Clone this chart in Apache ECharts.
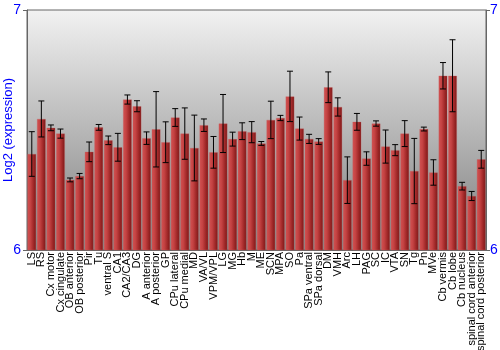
<!DOCTYPE html>
<html><head><meta charset="utf-8">
<script src="https://cdn.jsdelivr.net/npm/echarts@6/dist/echarts.min.js"></script>
<style>html,body{margin:0;padding:0;background:#fff}#c{width:500px;height:350px}</style>
</head><body><div id="c"></div>
<script>
var categories = ["LS","RS","Cx motor","Cx cingulate","OB anterior","OB posterior","Pir","Tu","ventral S","CA1","CA2/CA3","DG","A anterior","A posterior","GP","CPu lateral","CPu medial","MD","VA/VL","VPM/VPL","LG","MG","Hb","M","ME","SCN","MPA","SO","Pa","SPa ventral","SPa dorsal","DM","VMH","Arc","LH","PAG","SC","IC","VTA","SN","Tg","Pn","MVe","Cb vermis","Cb lobe","Cb nucleus","spinal cord anterior","spinal cord posterior"];
var values = [6.400,6.546,6.509,6.485,6.292,6.308,6.409,6.511,6.457,6.428,6.627,6.599,6.466,6.503,6.449,6.552,6.485,6.425,6.520,6.407,6.527,6.462,6.495,6.491,6.444,6.542,6.550,6.640,6.506,6.463,6.452,6.678,6.596,6.291,6.534,6.381,6.527,6.431,6.416,6.485,6.329,6.504,6.323,6.726,6.726,6.266,6.225,6.378];
var errors = [0.093,0.075,0.012,0.019,0.008,0.011,0.041,0.012,0.018,0.058,0.019,0.023,0.026,0.157,0.085,0.037,0.107,0.137,0.026,0.066,0.121,0.029,0.035,0.044,0.008,0.078,0.011,0.105,0.048,0.019,0.012,0.064,0.038,0.097,0.035,0.028,0.011,0.069,0.023,0.054,0.136,0.008,0.053,0.055,0.150,0.016,0.019,0.037];
var yTicks = [6, 7];

var errData = values.map(function(v, i){ return [i, v - errors[i], v + errors[i]]; });
var chart = echarts.init(document.getElementById('c'), null, {renderer:'canvas'});
var blue = '#0000ff';
var ff = 'Liberation Sans, Arial, sans-serif';
chart.setOption({
  animation: false,
  grid: {left: 27, right: 14, top: 10, bottom: 100, containLabel:false, outerBoundsMode:'none',
    show: true, borderColor: '#666', borderWidth: 1,
    backgroundColor: {type:'linear', x:0, y:0, x2:0, y2:1, colorStops:[{offset:0,color:'#f2f2f2'},{offset:0.75,color:'#9a9a9a'},{offset:1,color:'#888888'}]}},
  xAxis: {type:'category', data: categories,
    axisLine:{show:true, lineStyle:{color:'#666'}}, axisTick:{show:false},
    axisLabel:{interval:0, rotate:90, fontSize:11, color:'#000', fontFamily:ff, margin:2, hideOverlap:false}},
  yAxis: [
    {type:'value', min:6, max:7, interval:1, name:'Log2 (expression)', nameLocation:'middle', nameGap:12,
     nameMoveOverlap:false,
     nameTextStyle:{color:blue, fontSize:13, fontFamily:ff},
     axisLine:{show:true, lineStyle:{color:'#666'}}, axisTick:{show:true, length:4, lineStyle:{color:'#666'}},
     splitLine:{show:false},
     axisLabel:{color:blue, fontSize:14, margin:6, fontFamily:ff}},
    {type:'value', min:6, max:7, interval:1, position:'right',
     axisLine:{show:true, lineStyle:{color:'#666'}}, axisTick:{show:true, length:4, lineStyle:{color:'#666'}},
     splitLine:{show:false},
     axisLabel:{color:blue, fontSize:14, margin:4, fontFamily:ff}}
  ],
  series: [
    {type:'bar', data: values, barCategoryGap:'9%',
     itemStyle:{color:{type:'linear', x:0, y:0, x2:1, y2:0, colorStops:[
       {offset:0,color:'#d25252'},{offset:0.35,color:'#c44242'},{offset:0.7,color:'#a02828'},{offset:1,color:'#7a1818'}]},
       borderColor:'rgba(200,90,90,0.6)', borderWidth:0.5}},
    {type:'custom', data: errData, z: 10,
     renderItem: function(params, api){
       var x = api.value(0);
       var lo = api.coord([x, api.value(1)]);
       var hi = api.coord([x, api.value(2)]);
       var cw = 3;
       var st = {stroke:'#000', lineWidth:1};
       return {type:'group', children:[
         {type:'line', shape:{x1:lo[0], y1:lo[1], x2:hi[0], y2:hi[1]}, style:st},
         {type:'line', shape:{x1:lo[0]-cw, y1:lo[1], x2:lo[0]+cw, y2:lo[1]}, style:st},
         {type:'line', shape:{x1:hi[0]-cw, y1:hi[1], x2:hi[0]+cw, y2:hi[1]}, style:st}
       ]};
     }}
  ]
});
</script></body></html>
